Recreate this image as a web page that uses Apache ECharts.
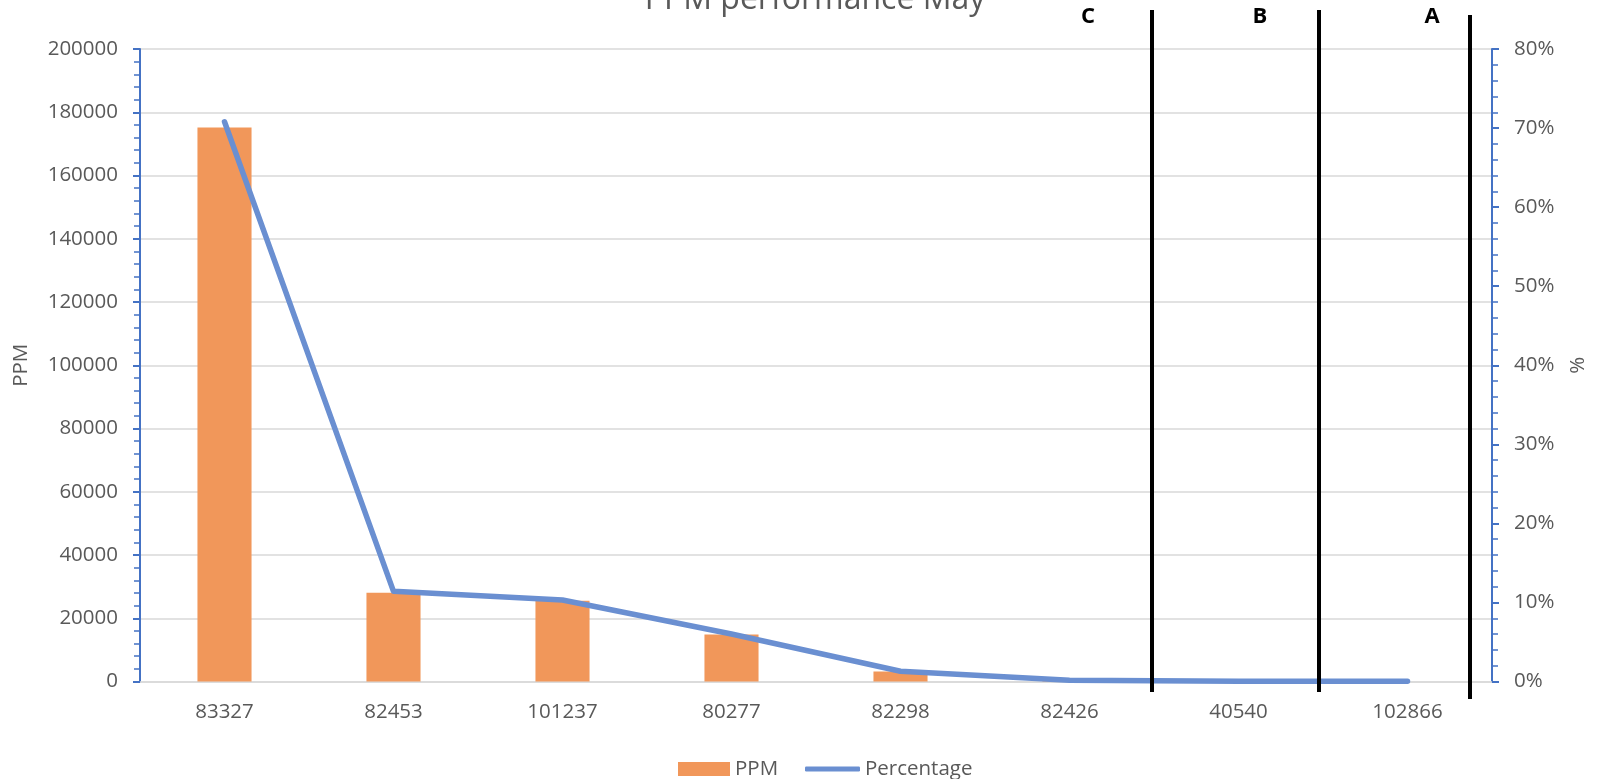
<!DOCTYPE html>
<html>
<head>
<meta charset="utf-8">
<script src="https://cdn.jsdelivr.net/npm/echarts@6/dist/echarts.min.js"></script>
<style>
html,body{margin:0;padding:0;background:#fff;}
#chart{width:1602px;height:779px;}
</style>
</head>
<body>
<div id="chart"></div>
<script>
// ---- data ----
const categories = ['83327', '82453', '101237', '80277', '82298', '82426', '40540', '102866'];
const ppmValues = [175200, 28100, 25500, 14900, 3200, 400, 0, 0];
const percentValues = [70.8, 11.4, 10.3, 6.0, 1.3, 0.16, 0.03, 0.02];
const leftTicks = { min: 0, max: 200000, interval: 20000 };
const rightTicks = { min: 0, max: 80, interval: 10 };
const zoneLabels = ['C', 'B', 'A'];

const FONT = '"Open Sans", "Liberation Sans", sans-serif';
const GREY = '#595959';
const BLUE_AXIS = '#4472C4';

const chart = echarts.init(document.getElementById('chart'));

const zoneLines = [
  { x: 1152, y1: 10, y2: 692 },
  { x: 1319, y1: 10, y2: 692 },
  { x: 1470, y1: 15, y2: 699 }
];
const zoneLabelPos = [1088, 1260, 1432];

const graphics = [
  {
    type: 'text', x: 815, y: 0, z: 10,
    style: { text: 'PPM performance May', font: '32px ' + FONT, fill: GREY, textAlign: 'center', textVerticalAlign: 'middle' }
  }
];
zoneLines.forEach(l => graphics.push({
  type: 'line', z: 10,
  shape: { x1: l.x, y1: l.y1, x2: l.x, y2: l.y2 },
  style: { stroke: '#000', lineWidth: 4 }
}));
zoneLabels.forEach((t, i) => graphics.push({
  type: 'text', x: zoneLabelPos[i], y: 17, z: 10,
  style: { text: t, font: 'bold 22px ' + FONT, fill: '#000', textAlign: 'center', textVerticalAlign: 'middle' }
}));

const option = {
  animation: false,
  backgroundColor: '#fff',
  textStyle: { fontFamily: FONT },
  grid: { left: 140, right: 110, top: 49, bottom: 97.5, containLabel: false },
  legend: [
    {
      data: ['PPM'], left: 673, top: 753, itemWidth: 52, itemHeight: 14, icon: 'rect',
      textStyle: { fontSize: 20.5, color: GREY, fontFamily: FONT, lineHeight: 22 }
    },
    {
      data: ['Percentage'], left: 800, top: 753, itemWidth: 55, itemHeight: 5, icon: 'roundRect',
      textStyle: { fontSize: 20.5, color: GREY, fontFamily: FONT, lineHeight: 22 }
    }
  ],
  xAxis: {
    type: 'category',
    data: categories,
    axisLine: { show: true, lineStyle: { color: '#D9D9D9', width: 1.5 } },
    axisTick: { show: false },
    axisLabel: { color: GREY, fontSize: 20.5, fontFamily: FONT, margin: 20 }
  },
  yAxis: [
    {
      type: 'value', position: 'left',
      min: leftTicks.min, max: leftTicks.max, interval: leftTicks.interval,
      name: 'PPM', nameLocation: 'middle', nameGap: 108,
      nameTextStyle: { color: GREY, fontSize: 20.5, fontFamily: FONT },
      axisLine: { show: true, lineStyle: { color: BLUE_AXIS, width: 2 } },
      axisTick: { show: true, length: 7, lineStyle: { color: BLUE_AXIS, width: 2 } },
      minorTick: { show: true, splitNumber: 5, length: 6, lineStyle: { color: BLUE_AXIS, width: 1.5 } },
      axisLabel: { color: GREY, fontSize: 20.5, fontFamily: FONT, margin: 22, formatter: v => String(v) },
      splitLine: { show: true, lineStyle: { color: '#D9D9D9', width: 1.5 } }
    },
    {
      type: 'value', position: 'right',
      min: rightTicks.min, max: rightTicks.max, interval: rightTicks.interval,
      name: '%', nameLocation: 'middle', nameGap: 76,
      nameTextStyle: { color: GREY, fontSize: 20.5, fontFamily: FONT },
      axisLine: { show: true, lineStyle: { color: BLUE_AXIS, width: 2 } },
      axisTick: { show: true, length: 7, lineStyle: { color: BLUE_AXIS, width: 2 } },
      minorTick: { show: true, splitNumber: 5, length: 6, lineStyle: { color: BLUE_AXIS, width: 1.5 } },
      axisLabel: { color: GREY, fontSize: 20.5, fontFamily: FONT, margin: 22, formatter: '{value}%' },
      splitLine: { show: false }
    }
  ],
  series: [
    {
      name: 'PPM', type: 'bar', yAxisIndex: 0,
      data: ppmValues, barWidth: '32%',
      itemStyle: { color: '#F1975A' }
    },
    {
      name: 'Percentage', type: 'line', yAxisIndex: 1,
      data: percentValues, symbol: 'none', smooth: false,
      color: '#6A8FD1',
      itemStyle: { color: '#6A8FD1' },
      lineStyle: { color: '#6A8FD1', width: 5.5, cap: 'round', join: 'round' },
      z: 5
    }
  ],
  graphic: graphics
};
chart.setOption(option);
</script>
</body>
</html>
